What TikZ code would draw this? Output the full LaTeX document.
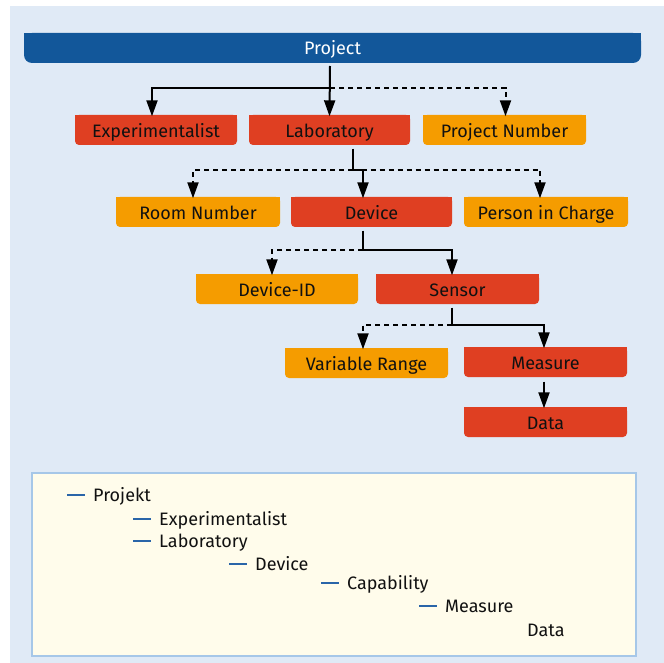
\documentclass[tikz,border=0pt]{standalone}
\usepackage{fontspec}
\setmainfont{Fira Sans}
\usetikzlibrary{arrows.meta}

\definecolor{pagebg}{HTML}{E0EAF6}
\definecolor{headblue}{HTML}{12579A}
\definecolor{mainred}{HTML}{DF3F22}
\definecolor{attrorange}{HTML}{F59C00}
\definecolor{legendfill}{HTML}{FFFCEB}
\definecolor{legendedge}{HTML}{A6C7E8}
\definecolor{dashblue}{HTML}{2A65A8}
\definecolor{inkdark}{HTML}{111111}

\tikzset{
  boxtext/.style={inner sep=0pt, minimum height=30pt, text height=12.4pt, text depth=0pt,
    font=\fontsize{18}{20}\selectfont, text=inkdark},
  conn/.style={line width=2pt, draw=black},
  arr/.style={conn, -{Triangle[length=16pt,width=11pt]}},
  dashconn/.style={dash pattern=on 5pt off 4pt},
  legtext/.style={inner sep=0pt, anchor=base west, font=\fontsize{18}{20}\selectfont, text=inkdark},
}

% a box with rounded lower corners: name, left x, top y, width, colour, label
\newcommand\tagbox[6]{%
  \fill[#5, rounded corners=4pt] (#2,#3) rectangle ++(#4,30);
  \fill[#5] (#2,#3) rectangle ++(#4,15);
  \node[boxtext, minimum width=#4pt] (#1) at ({#2+#4/2},{#3+16.5}) {#6};
}
\newcommand\legdash{{\color{dashblue}\rule[5.5pt]{18pt}{1.6pt}}\hspace{8pt}}

\begin{document}
\begin{tikzpicture}[x=1pt, y=-1pt]
  \useasboundingbox (0,0) rectangle (664,663);
  \fill[pagebg] (10,6) rectangle (664,663);

  % header bar
  \fill[headblue, rounded corners=8pt] (24,33) rectangle (641,63);
  \fill[headblue] (24,33) rectangle (641,48);
  \node[boxtext, minimum width=617pt, text=white] (proj) at (332.5,48.5) {Project};

  % entity boxes
  \tagbox{exp}{75}{115}{162}{mainred}{Experimentalist}
  \tagbox{lab}{249}{115}{161}{mainred}{Laboratory}
  \tagbox{pnum}{423}{115}{163}{attrorange}{Project Number}

  \tagbox{room}{116}{197}{164}{attrorange}{Room Number}
  \tagbox{dev}{291}{197}{161}{mainred}{Device}
  \tagbox{pic}{464}{197}{164}{attrorange}{Person in Charge}

  \tagbox{did}{196}{274}{162}{attrorange}{Device-ID}
  \tagbox{sen}{376}{274}{163}{mainred}{Sensor}

  \tagbox{vrange}{285}{348}{163}{attrorange}{Variable Range}
  \tagbox{meas}{464}{347}{163}{mainred}{Measure}
  \tagbox{data}{464}{407}{163}{mainred}{Data}

  % Project -> first level
  \coordinate (pj) at (330,66);
  \draw[arr] (pj) -- (lab.north);
  \draw[arr] (pj) ++(0,22) -| ([xshift=-4pt]exp.north);
  \draw[arr, dashconn] (pj) ++(0,22) -| ([xshift=1pt]pnum.north);

  % Laboratory -> second level
  \draw[conn] ([xshift=23pt,yshift=-2pt]lab.south) -- ++(0,21) coordinate (lj);
  \draw[arr, dashconn] (lj) -| ([xshift=-5pt]room.north);
  \draw[arr, dashconn] (lj) -| ([xshift=-6pt]pic.north);
  \draw[arr] (lj) -| ([xshift=-8.5pt]dev.north);

  % Device -> third level
  \draw[conn] ([xshift=-8.5pt,yshift=-2pt]dev.south) -- ++(0,19) coordinate (dj);
  \draw[arr, dashconn] (dj) -| ([xshift=-5pt]did.north);
  \draw[arr] (dj) -| ([xshift=-5.5pt]sen.north);

  % Sensor -> fourth level
  \draw[conn] ([xshift=-5.5pt,yshift=-2pt]sen.south) -- ++(0,17) coordinate (sj);
  \draw[arr, dashconn] (sj) -| ([xshift=-3.5pt]vrange.north);
  \draw[arr] (sj) -| ([xshift=-1.5pt]meas.north);

  % Measure -> Data
  \draw[arr] ([xshift=-1.5pt,yshift=-3pt]meas.south) -- ([xshift=-1.5pt]data.north);

  % legend panel
  \draw[fill=legendfill, draw=legendedge, line width=1.5pt] (32,473) rectangle (636,656);
  \node[legtext] (l1) at (67,501) {\legdash Projekt};
  \node[legtext] (l2) at (133,525) {\legdash Experimentalist};
  \node[legtext] (l3) at (133,547) {\legdash Laboratory};
  \node[legtext] (l4) at (229,570) {\legdash Device};
  \node[legtext] (l5) at (321,589) {\legdash Capability};
  \node[legtext] (l6) at (419,612) {\legdash Measure};
  \node[legtext] (l7) at (527,636) {Data};
\end{tikzpicture}
\end{document}
